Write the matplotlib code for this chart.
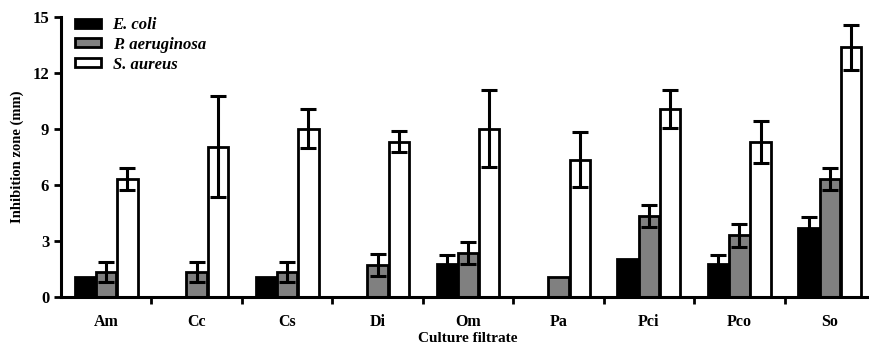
import numpy as np
import matplotlib.pyplot as plt

filtrates = ["Am", "Cc", "Cs", "Di", "Om", "Pa", "Pci", "Pco", "So"]
series = ["E. coli", "P. aeruginosa", "S. aureus"]

ecoli = [1.07, 0, 1.07, 0, 1.77, 0, 2.03, 1.77, 3.72]
ecoli_err = [0, 0, 0, 0, 0.5, 0, 0, 0.5, 0.55]
paer = [1.35, 1.35, 1.35, 1.7, 2.35, 1.05, 4.35, 3.3, 6.33]
paer_err = [0.52, 0.52, 0.52, 0.6, 0.6, 0, 0.6, 0.6, 0.6]
saur = [6.32, 8.05, 9.02, 8.33, 9.02, 7.35, 10.07, 8.32, 13.38]
saur_err = [0.58, 2.7, 1.05, 0.55, 2.05, 1.48, 1.03, 1.12, 1.2]

plt.rcParams['font.family'] = ['Liberation Serif', 'DejaVu Serif']
plt.rcParams['font.weight'] = 'bold'

fig = plt.figure(figsize=(8.7, 3.52), dpi=100)
ax = fig.add_axes([61 / 870, 55 / 352, 814 / 870, 280 / 352])

x = np.arange(len(filtrates))
w = 0.225
off = 0.235
colors = ["black", "#808080", "white"]
vals = [ecoli, paer, saur]
errs = [ecoli_err, paer_err, saur_err]

for i in range(3):
    xs = x + (i - 1) * off
    ax.bar(xs, vals[i], width=w, color=colors[i], edgecolor="black",
           linewidth=2, label=series[i], zorder=2)
    e = np.array(errs[i])
    m = e > 0
    ax.errorbar(xs[m], np.array(vals[i])[m], yerr=e[m], fmt="none",
                ecolor="black", elinewidth=2.2, capsize=5.5, capthick=2.2,
                zorder=3)

ax.set_xlim(-0.5, 8.5)
ax.set_ylim(0, 15)
ax.set_yticks([0, 3, 6, 9, 12, 15])
ax.set_xticks(np.arange(0.5, 8.5, 1))
ax.set_xticklabels([])
ax.set_xticks(x, minor=True)
ax.set_xticklabels(filtrates, minor=True, fontsize=11.5, fontweight="bold")
ax.tick_params(axis="x", which="minor", length=0, pad=12)
ax.tick_params(axis="x", which="major", length=5, width=2, direction="out")
ax.tick_params(axis="y", length=5, width=2, labelsize=12, direction="out")
for lab in ax.get_yticklabels():
    lab.set_fontweight("bold")

for s in ["top", "right"]:
    ax.spines[s].set_visible(False)
for s in ["left", "bottom"]:
    ax.spines[s].set_linewidth(2.2)

ax.set_ylabel("Inhibition zone (mm)", fontsize=10.5, fontweight="bold", labelpad=6)
ax.set_xlabel("Culture filtrate", fontsize=11, fontweight="bold", labelpad=2)

leg = ax.legend(loc="upper left", bbox_to_anchor=(0.005, 1.035), frameon=False,
                prop={"style": "italic", "weight": "bold", "size": 12},
                handlelength=1.55, handleheight=0.45, labelspacing=0.22,
                handletextpad=0.7, borderaxespad=0.2)

fig.savefig("out.png", dpi=100)
